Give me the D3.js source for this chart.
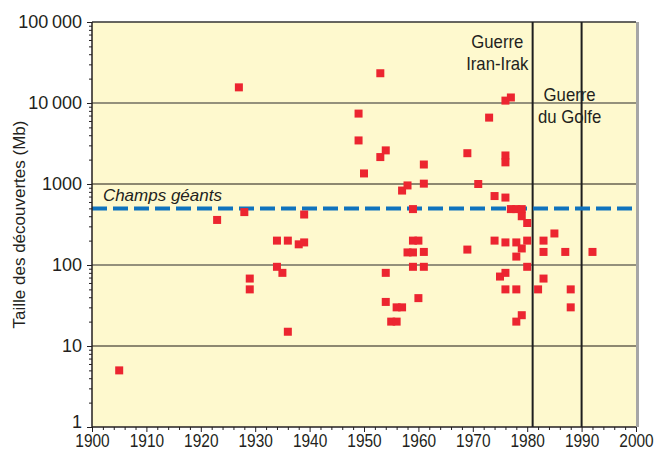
<!DOCTYPE html>
<html>
<head>
<meta charset="utf-8">
<script src="https://cdn.jsdelivr.net/npm/d3@7"></script>
<style>
  body { margin: 0; background: #fff; }
  text { font-family: "Liberation Sans Narrow", "Arial Narrow", "Liberation Sans", sans-serif; fill: #231f20; }
</style>
</head>
<body>
<svg id="canvas" width="655" height="452"></svg>
<script>
// année de découverte et taille (Mb)
var years = [1905, 1923, 1927, 1928, 1929, 1929, 1934, 1934, 1935, 1936, 1936, 1938, 1939, 1939,
  1949, 1949, 1950, 1953, 1953, 1954, 1954, 1954, 1955, 1956, 1956, 1957, 1957, 1958, 1958,
  1959, 1959, 1959, 1959, 1960, 1960, 1961, 1961, 1961, 1961, 1969, 1969, 1971, 1973, 1974, 1974,
  1975, 1976, 1977, 1976, 1976, 1976, 1976, 1976, 1976, 1977, 1978, 1978, 1978, 1978, 1978,
  1979, 1979, 1979, 1979, 1980, 1980, 1980, 1982, 1983, 1983, 1983, 1985, 1987, 1988, 1988, 1992];
var sizes = [5, 360, 15600, 450, 68, 50, 200, 95, 80, 200, 15, 180, 190, 420,
  7400, 3450, 1350, 23300, 2150, 2600, 80, 35, 20, 20, 30, 30, 830, 960, 143,
  490, 200, 143, 95, 200, 39, 1740, 1010, 145, 95, 2400, 155, 1000, 6600, 710, 200,
  72, 10700, 11700, 2250, 1850, 680, 190, 80, 50, 490, 490, 190, 127, 50, 20,
  490, 400, 160, 24, 330, 200, 95, 50, 200, 145, 68, 245, 145, 50, 30, 145];

var yTicks = [1, 10, 100, 1000, 10000, 100000];
var yTickLabels = ["1", "10", "100", "1000", "10\u2009000", "100\u2009000"];
var xTicks = [1900, 1910, 1920, 1930, 1940, 1950, 1960, 1970, 1980, 1990, 2000];
var giantThreshold = 500;
var wars = [1981, 1990];

var svg = d3.select("#canvas"),
  width = +svg.attr("width"),
  height = +svg.attr("height"),
  margin = {top: 22, right: 19, bottom: 25, left: 92};

var x = d3.scaleLinear().domain([1900, 2000]).range([margin.left, width - margin.right]);
var y = d3.scaleLog().domain([1, 100000]).range([height - margin.bottom, margin.top]);

// fond
svg.append("rect")
  .attr("x", x(1900)).attr("y", y(100000))
  .attr("width", x(2000) - x(1900)).attr("height", y(1) - y(100000))
  .attr("fill", "#fef9ce");

// ombre droite + bord haut
svg.append("line")
  .attr("x1", x(2000) + 1.5).attr("x2", x(2000) + 1.5)
  .attr("y1", y(100000)).attr("y2", y(1))
  .attr("stroke", "#a6a6a6").attr("stroke-width", 3);
svg.append("line")
  .attr("x1", x(1900)).attr("x2", x(2000))
  .attr("y1", y(100000)).attr("y2", y(100000))
  .attr("stroke", "#333").attr("stroke-width", 1.5);

// quadrillage horizontal
svg.selectAll(".hgrid")
  .data([10, 100, 1000, 10000])
  .enter().append("line")
  .attr("class", "hgrid")
  .attr("x1", x(1900)).attr("x2", x(2000))
  .attr("y1", function(d) { return y(d); })
  .attr("y2", function(d) { return y(d); })
  .attr("stroke", function(d) { return (d == 10 || d == 1000) ? "#8d8870" : "#2b2b2b"; })
  .attr("stroke-width", function(d) { return (d == 10 || d == 1000) ? 1.8 : 1.2; });

// guerres
svg.selectAll(".war")
  .data(wars)
  .enter().append("line")
  .attr("class", "war")
  .attr("x1", function(d) { return x(d); })
  .attr("x2", function(d) { return x(d); })
  .attr("y1", y(100000)).attr("y2", y(1))
  .attr("stroke", "#1e1e1e").attr("stroke-width", 2);

// champs géants
svg.append("line")
  .attr("x1", x(1900)).attr("x2", x(2000))
  .attr("y1", y(giantThreshold)).attr("y2", y(giantThreshold))
  .attr("stroke", "#0f73bd").attr("stroke-width", 4)
  .attr("stroke-dasharray", "15,6");

svg.append("text")
  .attr("x", x(1902)).attr("y", y(giantThreshold) - 7)
  .attr("font-size", 17).attr("font-style", "italic")
  .text("Champs géants");

// points
var s = 8;
svg.selectAll(".pt")
  .data(years)
  .enter().append("rect")
  .attr("class", "pt")
  .attr("x", function(d) { return x(d) - s / 2; })
  .attr("y", function(d, i) { return y(sizes[i]) - s / 2; })
  .attr("width", s).attr("height", s)
  .attr("fill", "#ec2530");

// axes
var yAxis = svg.append("g")
  .attr("transform", "translate(" + x(1900) + ",0)")
  .call(d3.axisLeft(y).tickValues(yTicks).tickSize(5).tickPadding(5)
    .tickFormat(function(d, i) { return yTickLabels[i]; }));

var minor = [];
for (var e = 0; e < 5; e++) for (var k = 2; k < 10; k++) minor.push(k * Math.pow(10, e));
svg.append("g")
  .attr("transform", "translate(" + x(1900) + ",0)")
  .call(d3.axisLeft(y).tickValues(minor).tickSize(3).tickFormat(""))
  .select(".domain").remove();

var xAxis = svg.append("g")
  .attr("transform", "translate(0," + y(1) + ")")
  .call(d3.axisBottom(x).tickValues(xTicks).tickSize(5).tickPadding(2).tickFormat(d3.format("d")));

svg.append("g")
  .attr("transform", "translate(0," + y(1) + ")")
  .call(d3.axisBottom(x).tickValues(d3.range(1902, 2000, 2).filter(function(d) { return d % 10; }))
    .tickSize(3).tickFormat(""))
  .select(".domain").remove();

svg.selectAll(".tick line").attr("stroke", "#231f20");
svg.selectAll(".domain").attr("stroke", "#231f20").attr("stroke-width", 1.5);
svg.selectAll(".tick text").attr("font-size", 18).attr("font-family", null).attr("fill", "#231f20");
yAxis.select(".domain").attr("d", "M0," + y(1) + "V" + y(100000));
xAxis.select(".domain").attr("d", "M" + x(1900) + ",0H" + x(2000));
// libellés plus étroits, comme dans l'original
xAxis.selectAll(".tick text").attr("transform", "scale(0.86,1)");
yAxis.selectAll(".tick").filter(function(d) { return d == 1; }).select("text").attr("dy", "0em");

// titre axe y
svg.append("text")
  .attr("transform", "translate(25," + ((y(1) + y(100000)) / 2) + ") rotate(-90)")
  .attr("text-anchor", "middle")
  .attr("font-size", 17)
  .text("Taille des découvertes (Mb)");

// annotations
var notes = [
  {t: ["Guerre", "Iran-Irak"], cx: 1974.5, y0: 48},
  {t: ["Guerre", "du Golfe"], cx: 1987.8, y0: 101}
];
notes.forEach(function(n) {
  n.t.forEach(function(line, i) {
    svg.append("g")
      .attr("transform", "translate(" + x(n.cx) + "," + (n.y0 + i * 22) + ")")
      .append("text")
      .attr("text-anchor", "middle")
      .attr("transform", "scale(0.93,1)")
      .attr("font-size", 18)
      .text(line);
  });
});
</script>
</body>
</html>
